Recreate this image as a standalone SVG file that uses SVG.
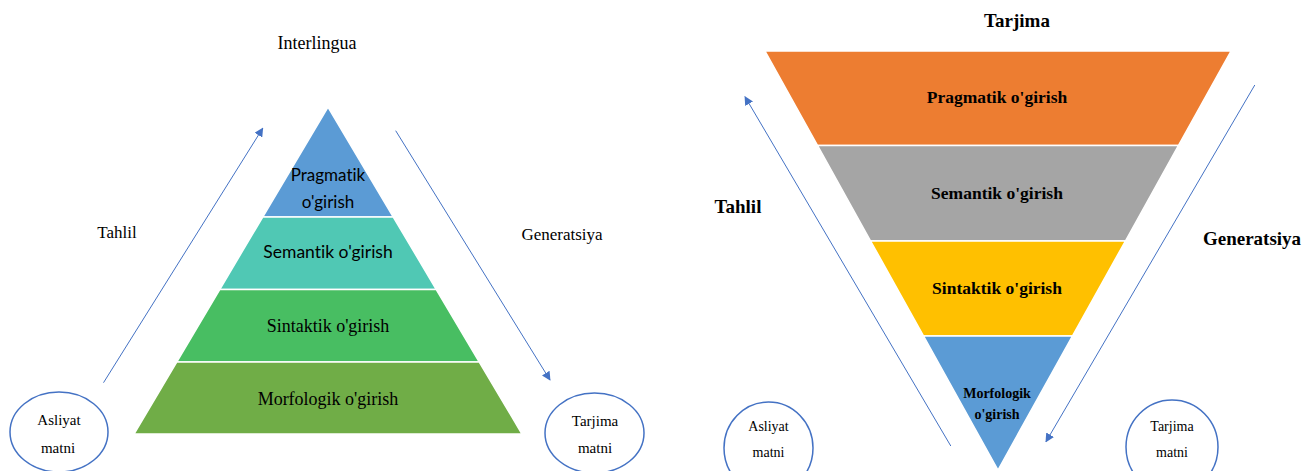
<svg xmlns="http://www.w3.org/2000/svg" width="1313" height="471" viewBox="0 0 1313 471">
<style>
.serif{font-family:"Liberation Serif","Times New Roman",serif;fill:#000;text-anchor:middle}
.sans{font-family:Lato,"Liberation Sans",sans-serif;fill:#000;text-anchor:middle;font-variant-ligatures:none}
.b{font-weight:bold}
.band{stroke:#fff;stroke-width:1.5}
.node{fill:#fff;stroke:#4472C4;stroke-width:1.5}
.arrow{stroke:#4472C4;stroke-width:1;fill:none;marker-end:url(#ah)}
</style>
<defs>
<marker id="ah" viewBox="0 0 10 10" refX="9" refY="5" markerWidth="9" markerHeight="9" markerUnits="userSpaceOnUse" orient="auto">
<path d="M0,0 L10,5 L0,10 z" fill="#4472C4"/>
</marker>
</defs>
<rect width="1313" height="471" fill="#fff"/>

<g id="left-title"><text class="serif" x="317" y="49" font-size="18">Interlingua</text></g>

<g id="left-pragmatik">
<polygon class="band" points="328,107 393.3,217 262.7,217" fill="#5B9BD5"/>
<text class="sans" x="328" y="181" font-size="17">Pragmatik</text>
<text class="sans" x="328" y="208" font-size="17">o'girish</text>
</g>
<g id="left-semantik">
<polygon class="band" points="262.7,217 393.3,217 436.3,289.5 219.7,289.5" fill="#50C8B4"/>
<text class="sans" x="328" y="258" font-size="17.5">Semantik o'girish</text>
</g>
<g id="left-sintaktik">
<polygon class="band" points="219.7,289.5 436.3,289.5 479.3,362 176.7,362" fill="#48BE62"/>
<text class="serif" x="328" y="332" font-size="18">Sintaktik o'girish</text>
</g>
<g id="left-morfologik">
<polygon class="band" points="176.7,362 479.3,362 522,434 134,434" fill="#70AD47"/>
<text class="serif" x="328" y="405" font-size="18">Morfologik o'girish</text>
</g>

<g id="left-tahlil"><text class="serif" x="117" y="238" font-size="17">Tahlil</text></g>
<g id="left-generatsiya"><text class="serif" x="562" y="240" font-size="17">Generatsiya</text></g>

<g id="left-asliyat">
<ellipse class="node" cx="59" cy="432" rx="49" ry="40"/>
<text class="serif" x="59" y="425" font-size="15">Asliyat</text>
<text class="serif" x="58" y="453" font-size="15">matni</text>
</g>
<g id="left-tarjima">
<ellipse class="node" cx="594.5" cy="433" rx="49.5" ry="40"/>
<text class="serif" x="595" y="426" font-size="15">Tarjima</text>
<text class="serif" x="595" y="453" font-size="15">matni</text>
</g>

<g id="right-title"><text class="serif b" x="1017" y="27" font-size="19">Tarjima</text></g>

<g id="right-pragmatik">
<polygon class="band" points="765,51 1231,51 1178.4,145.5 817.6,145.5" fill="#ED7D31"/>
<text class="serif b" x="997" y="103" font-size="17.5">Pragmatik o'girish</text>
</g>
<g id="right-semantik">
<polygon class="band" points="817.6,145.5 1178.4,145.5 1125.4,241 870.6,241" fill="#A5A5A5"/>
<text class="serif b" x="997" y="199" font-size="17.5">Semantik o'girish</text>
</g>
<g id="right-sintaktik">
<polygon class="band" points="870.6,241 1125.4,241 1072.4,336 923.6,336" fill="#FFC000"/>
<text class="serif b" x="997" y="294" font-size="17.5">Sintaktik o'girish</text>
</g>
<g id="right-morfologik">
<polygon class="band" points="923.6,336 1072.4,336 998,470" fill="#5B9BD5"/>
<text class="serif b" x="997" y="398" font-size="14">Morfologik</text>
<text class="serif b" x="997" y="419" font-size="14">o'girish</text>
</g>

<g id="right-tahlil"><text class="serif b" x="738" y="213" font-size="19">Tahlil</text></g>
<g id="right-generatsiya"><text class="serif b" x="1252" y="245" font-size="19">Generatsiya</text></g>

<g id="right-asliyat">
<ellipse class="node" cx="768.5" cy="448" rx="44.5" ry="46"/>
<text class="serif" x="768.5" y="431" font-size="14">Asliyat</text>
<text class="serif" x="768.5" y="457" font-size="14">matni</text>
</g>
<g id="right-tarjima">
<ellipse class="node" cx="1172" cy="447" rx="46" ry="47"/>
<text class="serif" x="1172" y="431" font-size="14">Tarjima</text>
<text class="serif" x="1172" y="457" font-size="14">matni</text>
</g>

<g id="connectors">
<line class="arrow" x1="103.5" y1="382.7" x2="262.7" y2="128.3"/>
<line class="arrow" x1="395.7" y1="130.7" x2="550" y2="380"/>
<line class="arrow" x1="950.8" y1="446" x2="745" y2="96.7"/>
<line class="arrow" x1="1254.8" y1="85" x2="1046" y2="441.7"/>
</g>
</svg>
